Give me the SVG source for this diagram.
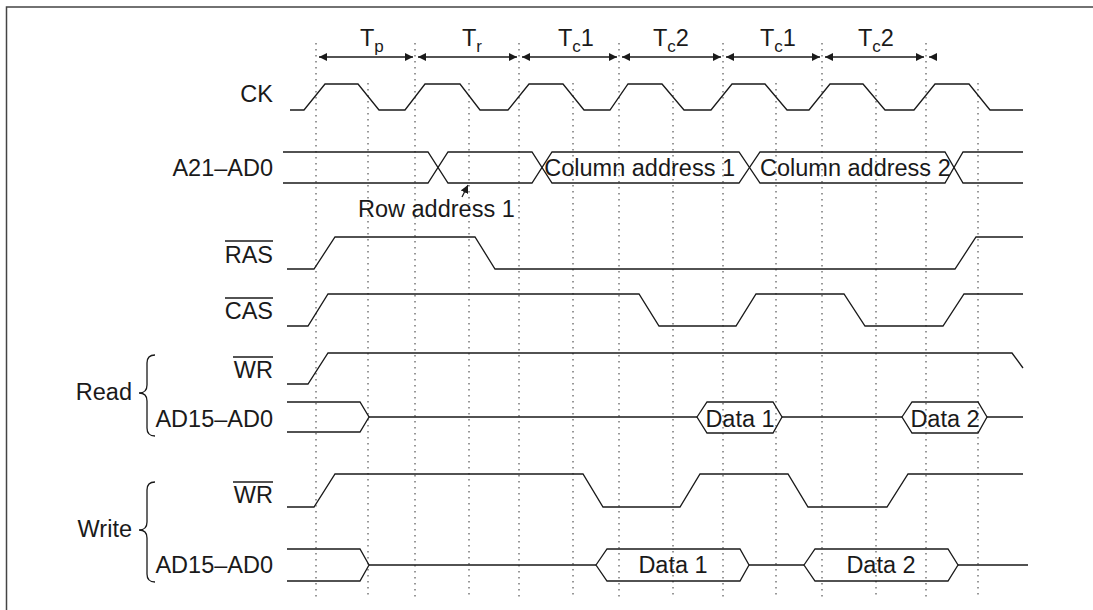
<svg xmlns="http://www.w3.org/2000/svg" width="1093" height="610" viewBox="0 0 1093 610">
<defs>
<style>
.t{font-family:"Liberation Sans",Arial,sans-serif;font-size:23.5px;fill:#1a1a1a}
.s{font-size:17px}
.w{fill:none;stroke:#1a1a1a;stroke-width:1.3;stroke-linejoin:miter}
.g{stroke:#333;stroke-width:1;stroke-dasharray:1.5 4.5}
.a{stroke:#1a1a1a;stroke-width:1.3;fill:none}
.frame{stroke:#444;stroke-width:1.5;fill:none}
</style>
<marker id="ah" viewBox="0 0 8 8" refX="8" refY="4" markerWidth="8" markerHeight="8" markerUnits="userSpaceOnUse" orient="auto-start-reverse">
<path d="M0,0 L8,4 L0,8 Z" fill="#1a1a1a"/>
</marker>
<marker id="ahs" viewBox="0 0 8 8" refX="0" refY="4" markerWidth="8" markerHeight="8" markerUnits="userSpaceOnUse" orient="auto">
<path d="M8,0 L0,4 L8,8 Z" fill="#1a1a1a"/>
</marker>
</defs>
<rect width="1093" height="610" fill="#fff"/>
<path class="frame" d="M6.5,610 L6.5,7 L1093,7"/>

<g id="grid">
<line class="g" x1="316" y1="43" x2="316" y2="597"/>
<line class="g" x1="415" y1="43" x2="415" y2="597"/>
<line class="g" x1="519" y1="43" x2="519" y2="597"/>
<line class="g" x1="619" y1="43" x2="619" y2="597"/>
<line class="g" x1="723" y1="43" x2="723" y2="597"/>
<line class="g" x1="822" y1="43" x2="822" y2="597"/>
<line class="g" x1="926" y1="43" x2="926" y2="597"/>
<line class="g" x1="368" y1="83" x2="368" y2="597"/>
<line class="g" x1="469" y1="83" x2="469" y2="597"/>
<line class="g" x1="573" y1="83" x2="573" y2="597"/>
<line class="g" x1="673" y1="83" x2="673" y2="597"/>
<line class="g" x1="776" y1="83" x2="776" y2="597"/>
<line class="g" x1="876" y1="83" x2="876" y2="597"/>
<line class="g" x1="978" y1="83" x2="978" y2="597"/>
</g>

<g id="connectors">
<line class="a" x1="319" y1="57" x2="413" y2="57" marker-start="url(#ah)" marker-end="url(#ah)"/>
<line class="a" x1="418" y1="57" x2="517" y2="57" marker-start="url(#ah)" marker-end="url(#ah)"/>
<line class="a" x1="522" y1="57" x2="617" y2="57" marker-start="url(#ah)" marker-end="url(#ah)"/>
<line class="a" x1="622" y1="57" x2="721" y2="57" marker-start="url(#ah)" marker-end="url(#ah)"/>
<line class="a" x1="726" y1="57" x2="820" y2="57" marker-start="url(#ah)" marker-end="url(#ah)"/>
<line class="a" x1="825" y1="57" x2="924" y2="57" marker-start="url(#ah)" marker-end="url(#ah)"/>
<line class="a" x1="929" y1="57" x2="937" y2="57" marker-start="url(#ah)"/>
<line class="a" x1="462" y1="197" x2="468" y2="185" marker-end="url(#ah)"/>
</g>

<g id="period-labels" class="t">
<text x="360" y="46">T<tspan class="s" dy="6">p</tspan></text>
<text x="462" y="46">T<tspan class="s" dy="6">r</tspan></text>
<text x="558" y="46">T<tspan class="s" dy="6">c</tspan><tspan dy="-6">1</tspan></text>
<text x="653" y="46">T<tspan class="s" dy="6">c</tspan><tspan dy="-6">2</tspan></text>
<text x="760" y="46">T<tspan class="s" dy="6">c</tspan><tspan dy="-6">1</tspan></text>
<text x="858" y="46">T<tspan class="s" dy="6">c</tspan><tspan dy="-6">2</tspan></text>
</g>

<g id="ck">
<text class="t" x="273" y="102" text-anchor="end">CK</text>
<path class="w" d="M290,110 L304,110 L325,84 L358,84 L379,110 L405,110 L425,84 L460,84 L480,110 L508,110 L529,84 L563,84 L584,110 L610,110 L628,84 L662,84 L684,110 L711,110 L732,84 L765,84 L787,110 L809,110 L830,84 L863,84 L885,110 L914,110 L935,84 L969,84 L990,110 L1023,110"/>
</g>

<g id="addr">
<text class="t" x="273" y="176" text-anchor="end">A21–AD0</text>
<path class="w" d="M283,152 L428,152 L448,183 L532,183 L552,152 L739,152 L760,183 L945,183 L963,152 L1023,152"/>
<path class="w" d="M283,183 L428,183 L448,152 L532,152 L552,183 L739,183 L760,152 L945,152 L963,183 L1023,183"/>
<text class="t" x="735" y="176" text-anchor="end">Column address 1</text>
<text class="t" x="760" y="176">Column address 2</text>
<text class="t" x="358" y="217">Row address 1</text>
</g>

<g id="ras">
<text class="t" x="273" y="263" text-anchor="end">RAS</text>
<line class="a" x1="225" y1="241" x2="273" y2="241"/>
<path class="w" d="M287,269 L314,269 L335,237 L475,237 L495,269 L955,269 L976,237 L1023,237"/>
</g>

<g id="cas">
<text class="t" x="273" y="319" text-anchor="end">CAS</text>
<line class="a" x1="225" y1="298" x2="273" y2="298"/>
<path class="w" d="M287,326 L308,326 L328,294 L639,294 L659,326 L736,326 L756,294 L844,294 L865,326 L943,326 L964,294 L1023,294"/>
</g>

<g id="read">
<text class="t" x="132" y="400" text-anchor="end">Read</text>
<path class="a" d="M155,355 Q147,355 147,363 L147,385 Q147,393 139,393 Q147,393 147,401 L147,428 Q147,436 155,436"/>
</g>

<g id="read-wr">
<text class="t" x="273" y="378" text-anchor="end">WR</text>
<line class="a" x1="233" y1="357" x2="273" y2="357"/>
<path class="w" d="M287,384 L308,384 L328,353 L1012,353 L1023,368"/>
</g>

<g id="read-ad">
<text class="t" x="273" y="427" text-anchor="end">AD15–AD0</text>
<path class="w" d="M287,402 L360,402 L369,417 L360,432 L287,432"/>
<path class="w" d="M369,417 L697,417 M782,417 L902,417 M987,417 L1023,417"/>
<path class="w" d="M697,417 L707,402 L773,402 L782,417 L773,433 L707,433 Z"/>
<path class="w" d="M902,417 L912,402 L978,402 L987,417 L978,433 L912,433 Z"/>
<text class="t" x="740" y="427" text-anchor="middle">Data 1</text>
<text class="t" x="945" y="427" text-anchor="middle">Data 2</text>
</g>

<g id="write">
<text class="t" x="132" y="537" text-anchor="end">Write</text>
<path class="a" d="M155,482 Q147,482 147,490 L147,522 Q147,530 139,530 Q147,530 147,538 L147,574 Q147,582 155,582"/>
</g>

<g id="write-wr">
<text class="t" x="273" y="503" text-anchor="end">WR</text>
<line class="a" x1="233" y1="482" x2="273" y2="482"/>
<path class="w" d="M287,507 L314,507 L335,474 L583,474 L603,507 L680,507 L700,474 L788,474 L808,507 L887,507 L908,474 L1023,474"/>
</g>

<g id="write-ad">
<text class="t" x="273" y="573" text-anchor="end">AD15–AD0</text>
<path class="w" d="M287,549 L360,549 L369,565 L360,581 L287,581"/>
<path class="w" d="M369,565 L596,565 M749,565 L804,565 M958,565 L1028,565"/>
<path class="w" d="M596,565 L607,549 L740,549 L749,565 L740,581 L607,581 Z"/>
<path class="w" d="M804,565 L815,549 L948,549 L958,565 L948,581 L815,581 Z"/>
<text class="t" x="673" y="573" text-anchor="middle">Data 1</text>
<text class="t" x="881" y="573" text-anchor="middle">Data 2</text>
</g>
</svg>
